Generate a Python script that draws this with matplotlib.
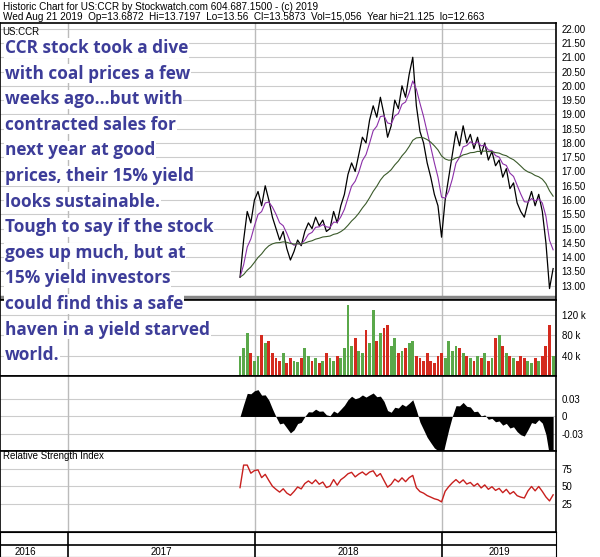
import numpy as np
import matplotlib
matplotlib.use("Agg")
import matplotlib.pyplot as plt

# weekly closes, Nov 2017 .. Aug 2019
price = [13.3, 14.6, 15.6, 15.2, 16.0, 16.3, 15.8, 16.5, 16.0, 15.4, 15.0, 14.6, 14.9, 14.3,
         13.9, 14.2, 14.6, 14.4, 14.9, 15.2, 15.0, 15.4, 15.1, 15.3, 14.9, 15.0, 15.6, 15.2,
         15.8, 16.2, 16.9, 17.3, 17.0, 17.6, 18.2, 18.0, 18.8, 19.3, 18.9, 19.6, 19.0, 18.2,
         18.6, 19.5, 19.2, 20.0, 19.6, 20.4, 21.0, 19.3, 18.4, 18.0, 17.3, 16.8, 16.2, 15.8,
         14.7, 16.0, 16.8, 17.6, 18.4, 17.9, 18.6, 18.0, 18.3, 17.8, 18.2, 17.6, 18.0, 17.4,
         17.7, 17.2, 17.4, 16.8, 17.1, 16.4, 16.6, 15.9, 15.6, 15.4, 15.9, 16.3, 15.8, 16.2,
         15.6, 14.5, 12.9, 13.6]
volume_k = [40, 55, 85, 45, 30, 40, 80, 65, 70, 45, 35, 30, 45, 25, 35, 30, 28, 35, 55, 40,
            30, 35, 25, 30, 45, 35, 30, 40, 35, 55, 140, 60, 75, 50, 45, 90, 65, 130, 70, 85,
            95, 100, 60, 75, 45, 50, 55, 65, 70, 40, 35, 30, 45, 30, 25, 40, 45, 35, 70, 50,
            60, 55, 45, 40, 35, 30, 40, 35, 45, 30, 35, 75, 80, 60, 45, 40, 35, 30, 40, 35,
            30, 25, 35, 30, 40, 60, 100, 40]
year_edges = [-47.8, 4.17, 56.1]
year_labels = ["2016", "2017", "2018", "2019"]
year_label_pos = [-59.7, -21.9, 30, 72]
note_lines = ["CCR stock took a dive", "with coal prices a few", "weeks ago...but with",
              "contracted sales for", "next year at good", "prices, their 15% yield",
              "looks sustainable.", "Tough to say if the stock", "goes up much, but at",
              "15% yield investors", "could find this a safe", "haven in a yield starved",
              "world."]

p = np.array(price)
x = np.arange(len(p))

def ema(a, n):
    out = np.empty_like(a)
    k = 2 / (n + 1)
    out[0] = a[0]
    for i in range(1, len(a)):
        out[i] = a[i] * k + out[i - 1] * (1 - k)
    return out

ma_s, ma_l = ema(p, 5), ema(p, 28)
osc = (ema(p, 3) - ema(p, 9)) / p * 0.75
d = np.diff(p, prepend=p[0])
up = ema(np.clip(d, 0, None), 10)
dn = ema(np.clip(-d, 0, None), 10)
rsi = 100 - 100 / (1 + up / np.maximum(dn, 1e-6))
rsi = 50 + (rsi - 50) * 0.6
rsi[0] = 48

W, H = 600, 557
fig = plt.figure(figsize=(6, 5.57), dpi=100)
plt.rcParams["font.family"] = ["Liberation Sans", "DejaVu Sans"]
XL = (-66.7, 87.8)

def ax_px(top, bottom, right=556):
    return fig.add_axes([0, 1 - bottom / H, right / W, (bottom - top) / H])

def style(ax, ticks, labels, ylim):
    ax.set_xlim(*XL)
    ax.set_ylim(*ylim)
    ax.yaxis.tick_right()
    ax.set_yticks(ticks)
    ax.set_yticklabels(labels, fontsize=7)
    ax.tick_params(axis="y", length=0, pad=4)
    ax.set_xticks([])
    for t in ticks:
        ax.axhline(t, color="#cccccc", lw=0.8, zorder=0)
    for e in year_edges:
        ax.axvline(e, color="#bbbbbb", lw=1, zorder=0)
    for s in ax.spines.values():
        s.set_linewidth(1.2)

# header
fig.text(0.005, 1 - 7 / H, "Historic Chart for US:CCR by Stockwatch.com 604.687.1500 - (c) 2019",
         fontsize=7.2, va="center")
fig.text(0.005, 1 - 17 / H, "Wed Aug 21 2019  Op=13.6872  Hi=13.7197  Lo=13.56  Cl=13.5873  "
         "Vol=15,056  Year hi=21.125  lo=12.663", fontsize=7.2, va="center")

# price
ax = ax_px(23, 300)
style(ax, np.arange(13, 22.01, 0.5), [f"{v:.2f}" for v in np.arange(13, 22.01, 0.5)], (12.5, 22.2))
ax.plot(x, p, color="black", lw=0.9)
ax.plot(x, ma_s, color="#8b2fa8", lw=0.8)
ax.plot(x, ma_l, color="#3a5a2a", lw=0.8)
ax.axhline(12.6, color="#888888", lw=2.5)
ax.text(-66, 21.9, "US:CCR", fontsize=7, va="center")

# volume
ax = ax_px(300, 376)
style(ax, [40, 80, 120], ["40 k", "80 k", "120 k"], (0, 150))
cols = ["#d42a1e" if d[i] < 0 else "#5aa84a" for i in range(len(p))]
ax.bar(x, volume_k, width=0.8, color=cols)

# oscillator
ax = ax_px(376, 451)
style(ax, [-0.03, 0, 0.03], ["-0.03", "0", "0.03"], (-0.058, 0.068))
ax.fill_between(x, 0, osc, color="black", lw=0)

# RSI
ax = ax_px(451, 532)
style(ax, [25, 50, 75], ["25", "50", "75"], (-15, 100))
ax.plot(x, rsi, color="#c8201e", lw=1)
ax.text(-66, 93, "Relative Strength Index", fontsize=7, va="center")

# date axis
ax = ax_px(532, 557)
ax.set_xlim(*XL)
ax.set_ylim(0, 2)
ax.set_xticks([]); ax.set_yticks([])
ax.axhline(1, color="black", lw=1.2)
for e in year_edges:
    ax.axvline(e, color="black", lw=1.2)
for xp, lab in zip(year_label_pos, year_labels):
    ax.text(xp, 0.4, lab, fontsize=7, ha="center", va="center")

# overlaid note
for i, line in enumerate(note_lines):
    fig.text(5 / W, 1 - (48 + 25.6 * i) / H, line, fontsize=12.4, family="Open Sans",
             fontweight="bold", color="#3d3d99", va="center",
             bbox=dict(facecolor="white", edgecolor="none", pad=0.5))

fig.savefig("out.png", dpi=100)
